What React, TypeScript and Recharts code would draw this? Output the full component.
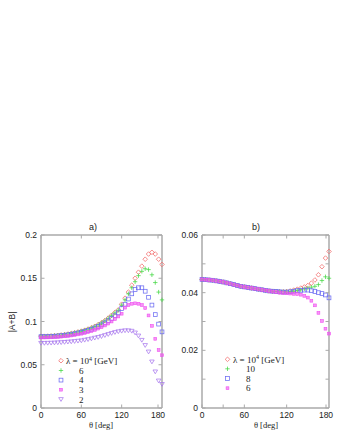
import { Scatter, ScatterChart, XAxis, YAxis } from "recharts";

const THETA = [
  0, 5, 10, 15, 20, 25, 30, 35, 40, 45, 50, 55, 60, 65, 70, 75, 80, 85, 90,
  95, 100, 105, 110, 115, 120, 125, 130, 135, 140, 145, 150, 155, 160, 165, 170, 175, 180
];

// panel a)
const A_L4 = [
  0.083, 0.083, 0.0831, 0.0833, 0.0836, 0.084, 0.0844, 0.0849, 0.0855, 0.0862, 0.087, 0.0879, 0.0889,
  0.09, 0.0913, 0.0928, 0.0945, 0.0964, 0.0986, 0.1011, 0.104, 0.1072, 0.1105, 0.1135, 0.12, 0.127,
  0.134, 0.142, 0.15, 0.157, 0.164, 0.172, 0.178, 0.18, 0.178, 0.172, 0.166
];
const A_L6 = [
  0.083, 0.083, 0.0831, 0.0833, 0.0836, 0.0839, 0.0843, 0.0848, 0.0854, 0.0861, 0.0869, 0.0878, 0.0888,
  0.0899, 0.0911, 0.0926, 0.0943, 0.0962, 0.0983, 0.1008, 0.1036, 0.1067, 0.11, 0.113, 0.119, 0.125,
  0.132, 0.139, 0.146, 0.153, 0.158, 0.161, 0.16, 0.154, 0.145, 0.134, 0.125
];
const A_L4B = [
  0.0825, 0.0825, 0.0826, 0.0828, 0.083, 0.0833, 0.0837, 0.0841, 0.0846, 0.0852, 0.0859, 0.0867, 0.0876,
  0.0886, 0.0897, 0.091, 0.0925, 0.0942, 0.0961, 0.0983, 0.1008, 0.1036, 0.1066, 0.11, 0.115, 0.12,
  0.126, 0.132, 0.137, 0.139, 0.139, 0.135, 0.128, 0.119, 0.108, 0.097, 0.088
];
const A_L3 = [
  0.0815, 0.0815, 0.0816, 0.0817, 0.0819, 0.0822, 0.0825, 0.0829, 0.0833, 0.0838, 0.0844, 0.0851, 0.0859,
  0.0868, 0.0878, 0.089, 0.0903, 0.0918, 0.0935, 0.0954, 0.0976, 0.1, 0.1028, 0.1058, 0.109, 0.116,
  0.119, 0.1205, 0.121, 0.1205, 0.119, 0.1155, 0.107, 0.095, 0.08, 0.067, 0.061
];
const A_L2 = [
  0.075, 0.075, 0.0751, 0.0752, 0.0754, 0.0756, 0.0758, 0.0761, 0.0764, 0.0767, 0.0771, 0.0775, 0.0779,
  0.0786, 0.0793, 0.0801, 0.081, 0.0818, 0.0828, 0.084, 0.0852, 0.0864, 0.0875, 0.0884, 0.089, 0.0895,
  0.0895, 0.089, 0.087, 0.0835, 0.0785, 0.0725, 0.065, 0.0535, 0.042, 0.0315, 0.0275
];

// panel b)
const B_L4 = [
  0.0446, 0.0445, 0.0444, 0.0443, 0.0441, 0.0439, 0.0437, 0.0434, 0.0431, 0.0428, 0.0425, 0.0422, 0.042,
  0.0418, 0.0416, 0.0414, 0.0412, 0.041, 0.0408, 0.0406, 0.0405, 0.0404, 0.0403, 0.0403, 0.0404, 0.0406,
  0.0409, 0.0412, 0.0416, 0.042, 0.0425, 0.0433, 0.0444, 0.0462, 0.049, 0.052, 0.0543
];
const B_L10 = [
  0.0446, 0.0445, 0.0444, 0.0443, 0.0441, 0.0439, 0.0437, 0.0434, 0.0431, 0.0428, 0.0425, 0.0422, 0.042,
  0.0418, 0.0416, 0.0414, 0.0412, 0.041, 0.0408, 0.0406, 0.0405, 0.0404, 0.0403, 0.0403, 0.0403, 0.0404,
  0.0406, 0.0408, 0.041, 0.0413, 0.0416, 0.0419, 0.0422, 0.0428, 0.0442, 0.0455, 0.045
];
const B_L8 = [
  0.0446, 0.0445, 0.0444, 0.0443, 0.0441, 0.0439, 0.0437, 0.0434, 0.0431, 0.0428, 0.0425, 0.0422, 0.042,
  0.0418, 0.0416, 0.0414, 0.0412, 0.041, 0.0408, 0.0406, 0.0405, 0.0404, 0.0403, 0.0402, 0.0402, 0.0403,
  0.0405, 0.0407, 0.0408, 0.0409, 0.0409, 0.0407, 0.0404, 0.04, 0.0397, 0.0392, 0.0382
];
const B_L6 = [
  0.0446, 0.0445, 0.0444, 0.0443, 0.0441, 0.0439, 0.0437, 0.0434, 0.0431, 0.0428, 0.0425, 0.0422, 0.042,
  0.0418, 0.0416, 0.0414, 0.0412, 0.041, 0.0408, 0.0406, 0.0404, 0.0402, 0.04, 0.0399, 0.0398, 0.0397,
  0.0396, 0.0395, 0.0393, 0.0389, 0.0383, 0.0372, 0.0356, 0.033, 0.0302, 0.0275, 0.0258
];

const X_TICKS = [0, 30, 60, 90, 120, 150, 180];
const X_LABELS = [0, 60, 120, 180];
const A_Y_TICKS = [0, 0.025, 0.05, 0.075, 0.1, 0.125, 0.15, 0.175, 0.2];
const A_Y_LABELS = [0, 0.05, 0.1, 0.15, 0.2];
const B_Y_TICKS = [0, 0.01, 0.02, 0.03, 0.04, 0.05, 0.06];
const B_Y_LABELS = [0, 0.02, 0.04, 0.06];

const A_LEGEND = ["6", "4", "3", "2"];
const B_LEGEND = ["10", "8", "6"];

const SANS = "'Liberation Sans', Arial, sans-serif";
const SERIF = "'Liberation Serif', 'Times New Roman', serif";
const FRAME = "#aaaaaa";
const INK = "#222";
const C = {
  red: "#f26868",
  green: "#44d844",
  blue: "#6c6cf2",
  magenta: "#f050f0",
  purple: "#a878ee"
};

const rows = (ys: number[]) => THETA.map((t, i) => ({ t, v: ys[i] }));

// marker shapes
function mark(kind: string, cx: number, cy: number, color: string) {
  const sw = 0.75;
  if (kind === "diamond")
    return <path d={`M${cx},${cy - 2.3}L${cx + 2.3},${cy}L${cx},${cy + 2.3}L${cx - 2.3},${cy}Z`} fill="none" stroke={color} strokeWidth={sw} />;
  if (kind === "plus")
    return <path d={`M${cx - 2.2},${cy}H${cx + 2.2}M${cx},${cy - 2.2}V${cy + 2.2}`} stroke={color} strokeWidth={sw} />;
  if (kind === "square")
    return <rect x={cx - 1.9} y={cy - 1.9} width={3.8} height={3.8} fill="none" stroke={color} strokeWidth={sw} />;
  if (kind === "box")
    return <rect x={cx - 1.4} y={cy - 1.4} width={2.8} height={2.8} fill={color} fillOpacity={0.6} stroke={color} strokeWidth={0.6} />;
  return <path d={`M${cx - 2.3},${cy - 1.7}L${cx + 2.3},${cy - 1.7}L${cx},${cy + 2.1}Z`} fill="none" stroke={color} strokeWidth={sw} />;
}

const shape = (kind: string, color: string) => (p: any) => mark(kind, p.cx, p.cy, color);

const tickFor = (side: string, labels: number[]) => (p: any) => {
  const { x, y, payload } = p;
  const v = payload.value;
  const txt = labels.includes(v) ? String(v) : null;
  if (side === "bottom")
    return (
      <g>
        <line x1={x} y1={y} x2={x} y2={y - 3.5} stroke={FRAME} />
        {txt && <text x={x} y={y + 10} textAnchor="middle" fontSize={8.5} fontFamily={SANS} fill={INK}>{txt}</text>}
      </g>
    );
  if (side === "top") return <line x1={x} y1={y} x2={x} y2={y + 3.5} stroke={FRAME} />;
  if (side === "left")
    return (
      <g>
        <line x1={x} y1={y} x2={x + 3.5} y2={y} stroke={FRAME} />
        {txt && <text x={x - 4} y={y + 3} textAnchor="end" fontSize={8.5} fontFamily={SANS} fill={INK}>{txt}</text>}
      </g>
    );
  return <line x1={x} y1={y} x2={x - 3.5} y2={y} stroke={FRAME} />;
};

const axisLine = { stroke: FRAME, strokeWidth: 1.5 };

function Frame({ yTicks, yLabels, yMax, yWidth }: { yTicks: number[]; yLabels: number[]; yMax: number; yWidth: number }) {
  return [
    <XAxis key="xb" xAxisId="b" type="number" dataKey="t" domain={[0, 180]} ticks={X_TICKS} height={27}
      tickSize={0} tickMargin={0} tickLine={false} axisLine={axisLine} tick={tickFor("bottom", X_LABELS)} />,
    <XAxis key="xt" xAxisId="t" orientation="top" type="number" dataKey="t" domain={[0, 180]} ticks={X_TICKS} height={1}
      tickSize={0} tickMargin={0} tickLine={false} axisLine={axisLine} tick={tickFor("top", [])} />,
    <YAxis key="yl" yAxisId="l" type="number" dataKey="v" domain={[0, yMax]} ticks={yTicks} width={yWidth}
      tickSize={0} tickMargin={0} tickLine={false} axisLine={axisLine} tick={tickFor("left", yLabels)} />,
    <YAxis key="yr" yAxisId="r" orientation="right" type="number" dataKey="v" domain={[0, yMax]} ticks={yTicks} width={1}
      tickSize={0} tickMargin={0} tickLine={false} axisLine={axisLine} tick={tickFor("right", [])} />
  ];
}

const A_SERIES = [
  { data: A_L4, kind: "diamond", color: C.red },
  { data: A_L6, kind: "plus", color: C.green },
  { data: A_L4B, kind: "square", color: C.blue },
  { data: A_L3, kind: "box", color: C.magenta },
  { data: A_L2, kind: "tri", color: C.purple }
];
const B_SERIES = [
  { data: B_L4, kind: "diamond", color: C.red },
  { data: B_L10, kind: "plus", color: C.green },
  { data: B_L8, kind: "square", color: C.blue },
  { data: B_L6, kind: "box", color: C.magenta }
];

function Lambda({ x, y }: { x: number; y: number }) {
  return (
    <text x={x} y={y} fontSize={9} fontFamily={SERIF} fill={INK}>
      λ = 10<tspan dy={-3.5} fontSize={6}>4</tspan><tspan dy={3.5}> [GeV]</tspan>
    </text>
  );
}

// first series sits on the mirror (top/right) axes so they get drawn too
function series(list: typeof A_SERIES) {
  return list.map((s, i) => (
    <Scatter
      key={i}
      xAxisId={i === 0 ? "t" : "b"}
      yAxisId={i === 0 ? "r" : "l"}
      data={rows(s.data)}
      shape={shape(s.kind, s.color)}
      isAnimationActive={false}
    />
  ));
}

export default function App() {
  return (
    <div style={{ position: "absolute", left: 0, top: 0, width: 340, height: 440, background: "#fff" }}>
      <div style={{ position: "absolute", left: 0, top: 220 }}>
        <ScatterChart width={170} height={215} margin={{ top: 14, right: 7, bottom: 0, left: 0 }}>
          {Frame({ yTicks: A_Y_TICKS, yLabels: A_Y_LABELS, yMax: 0.2, yWidth: 41 })}
          {series(A_SERIES)}
        </ScatterChart>
      </div>
      <div style={{ position: "absolute", left: 170, top: 220 }}>
        <ScatterChart width={168} height={215} margin={{ top: 14, right: 8, bottom: 0, left: 0 }}>
          {Frame({ yTicks: B_Y_TICKS, yLabels: B_Y_LABELS, yMax: 0.06, yWidth: 32 })}
          {series(B_SERIES)}
        </ScatterChart>
      </div>
      <svg width={340} height={440} style={{ position: "absolute", left: 0, top: 0, pointerEvents: "none" }}>
        <text x={93} y={230} textAnchor="middle" fontSize={9} fontFamily={SANS} fill={INK}>a)</text>
        <text x={256} y={230} textAnchor="middle" fontSize={9} fontFamily={SANS} fill={INK}>b)</text>
        <text transform="translate(15,322) rotate(-90)" textAnchor="middle" fontSize={8.5} fontFamily={SANS} fill={INK}>|A+B|</text>
        <text x={101} y={428} textAnchor="middle" fontSize={8.5} fontFamily={SERIF} fill={INK}>θ [deg]</text>
        <text x={266} y={428} textAnchor="middle" fontSize={8.5} fontFamily={SERIF} fill={INK}>θ [deg]</text>

        {mark("diamond", 61, 360.7, C.red)}
        <Lambda x={66} y={364} />
        {A_LEGEND.map((lab, i) => (
          <g key={lab}>
            {mark(A_SERIES[i + 1].kind, 61, 370.5 + i * 9.6, A_SERIES[i + 1].color)}
            <text x={79} y={373.7 + i * 9.6} fontSize={9} fontFamily={SERIF} fill={INK}>{lab}</text>
          </g>
        ))}

        {mark("diamond", 227.5, 359.3, C.red)}
        <Lambda x={233} y={362.5} />
        {B_LEGEND.map((lab, i) => (
          <g key={lab}>
            {mark(B_SERIES[i + 1].kind, 227.5, 368.8 + i * 9.7, B_SERIES[i + 1].color)}
            <text x={246} y={372 + i * 9.7} fontSize={9} fontFamily={SERIF} fill={INK}>{lab}</text>
          </g>
        ))}
      </svg>
    </div>
  );
}
